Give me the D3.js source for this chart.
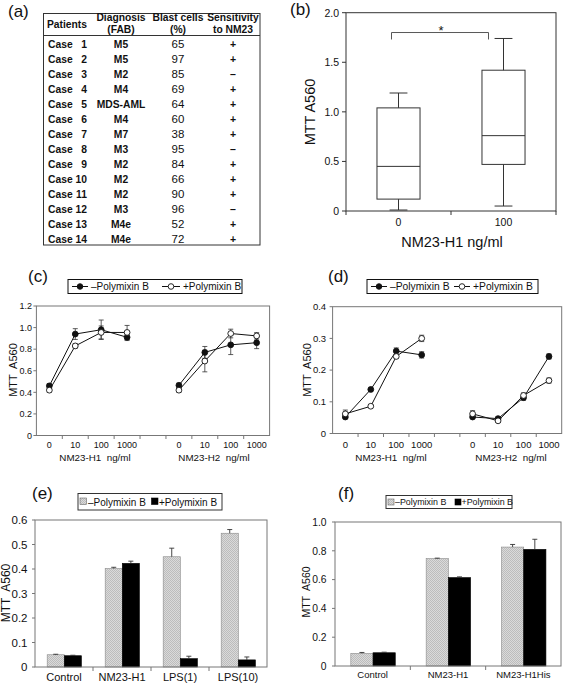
<!DOCTYPE html>
<html><head><meta charset="utf-8">
<script src="https://cdn.jsdelivr.net/npm/d3@7"></script>
<style>
body{margin:0;background:#fff}
svg{display:block}
text{font-family:"Liberation Sans",Arial,Helvetica,sans-serif;fill:#111;white-space:pre}
</style>
</head><body>
<svg id="chart"></svg>
<script>
// ---------------- DATA ----------------
// (a) table
const caseNumbers = [1,2,3,4,5,6,7,8,9,10,11,12,13,14];
const diagnosis = ["M5","M5","M2","M4","MDS-AML","M4","M7","M3","M2","M2","M2","M3","M4e","M4e"];
const blastCells = [65,97,85,69,64,60,38,95,84,66,90,96,52,72];
const sensitivity = ["+","+","–","+","+","+","+","–","+","+","+","–","+","+"];
const headerPatients = ["Patients"];
const headerDiagnosis = ["Diagnosis","(FAB)"];
const headerBlast = ["Blast cells","(%)"];
const headerSens = ["Sensitivity","to NM23"];

// (b) box plot
const boxGroups = ["0","100"];
const boxMin = [0.01, 0.05];
const boxQ1 = [0.12, 0.47];
const boxMedian = [0.45, 0.76];
const boxQ3 = [1.04, 1.42];
const boxMax = [1.19, 1.74];
const boxTicks = [0, 0.5, 1.0, 1.5, 2.0];

// (c) / (d) dose response
const doseLabels = ["0","10","100","1000"];
const seriesNames = ["–Polymixin B","+Polymixin B"];
const cMinusH1 = [0.46, 0.94, 0.98, 0.91];
const cMinusH1Err = [0.02, 0.05, 0.09, 0.03];
const cPlusH1 = [0.42, 0.83, 0.955, 0.955];
const cPlusH1Err = [0.02, 0.02, 0.06, 0.065];
const cMinusH2 = [0.465, 0.77, 0.84, 0.86];
const cMinusH2Err = [0.02, 0.055, 0.09, 0.055];
const cPlusH2 = [0.42, 0.69, 0.945, 0.923];
const cPlusH2Err = [0.02, 0.10, 0.04, 0.03];
const cTicks = [0, 0.2, 0.4, 0.6, 0.8, 1.0, 1.2];

const dMinusH1 = [0.052, 0.139, 0.26, 0.248];
const dMinusH1Err = [0.005, 0.004, 0.01, 0.01];
const dPlusH1 = [0.062, 0.086, 0.243, 0.30];
const dPlusH1Err = [0.012, 0.004, 0.005, 0.01];
const dMinusH2 = [0.052, 0.047, 0.113, 0.243];
const dMinusH2Err = [0.005, 0.005, 0.008, 0.008];
const dPlusH2 = [0.062, 0.040, 0.120, 0.167];
const dPlusH2Err = [0.01, 0.004, 0.008, 0.008];
const dTicks = [0, 0.1, 0.2, 0.3, 0.4];

// (e) bars
const eCategories = ["Control","NM23-H1","LPS(1)","LPS(10)"];
const eMinus = [0.05, 0.402, 0.45, 0.546];
const eMinusErr = [0.002, 0.005, 0.035, 0.015];
const ePlus = [0.046, 0.423, 0.034, 0.029];
const ePlusErr = [0.002, 0.009, 0.01, 0.012];
const eTicks = [0, 0.1, 0.2, 0.3, 0.4, 0.5, 0.6];

// (f) bars
const fCategories = ["Control","NM23-H1","NM23-H1His"];
const fMinus = [0.088, 0.746, 0.826];
const fMinusErr = [0.006, 0.003, 0.018];
const fPlus = [0.092, 0.614, 0.81];
const fPlusErr = [0.004, 0.005, 0.07];
const fTicks = [0, 0.2, 0.4, 0.6, 0.8, 1.0];

// ---------------- DRAW ----------------
const W = 566, H = 683;
const svg = d3.select("#chart").attr("width", W).attr("height", H);
svg.append("rect").attr("width", W).attr("height", H).attr("fill", "#fff");

const defs = svg.append("defs");
const pat = defs.append("pattern").attr("id","grayTex").attr("patternUnits","userSpaceOnUse").attr("width",2).attr("height",2);
pat.append("rect").attr("width",2).attr("height",2).attr("fill","#dadada");
pat.append("rect").attr("width",1).attr("height",1).attr("fill","#bcbcbc");
pat.append("rect").attr("x",1).attr("y",1).attr("width",1).attr("height",1).attr("fill","#bcbcbc");

const fmt1 = d => d === 0 ? "0" : d3.format(".1f")(d);

function panelLabel(t, x, y) {
  svg.append("text").attr("x", x).attr("y", y).attr("font-size", 17).text(t);
}
panelLabel("(a)", 8, 17);
panelLabel("(b)", 290, 15);
panelLabel("(c)", 28, 282);
panelLabel("(d)", 328, 282);
panelLabel("(e)", 32, 499);
panelLabel("(f)", 338, 499);

// ---- (a) table ----
(function(){
  const g = svg.append("g");
  g.append("rect").attr("x",43.5).attr("y",13.5).attr("width",216.5).attr("height",231.5)
    .attr("fill","none").attr("stroke","#333").attr("stroke-width",1);
  g.append("line").attr("x1",43.5).attr("x2",260).attr("y1",35.5).attr("y2",35.5).attr("stroke","#333");
  const hdr = [[headerPatients,67],[headerDiagnosis,121],[headerBlast,178],[headerSens,233]];
  hdr.forEach(([lines,cx]) => {
    const ys = lines.length === 1 ? [28] : [21, 32.5];
    lines.forEach((l,i) => g.append("text").attr("x",cx).attr("y",ys[i]).attr("text-anchor","middle")
      .attr("font-size",10.3).attr("font-weight","bold").text(l));
  });
  const rowY = d3.scaleBand().domain(caseNumbers).range([36, 246]);
  const by = d => rowY(d) + rowY.bandwidth()/2 + 4;
  g.selectAll(".cw").data(caseNumbers).join("text").attr("class","cw")
    .attr("x",48).attr("y",by).attr("font-size",10.3).attr("font-weight","bold").text("Case");
  g.selectAll(".cn").data(caseNumbers).join("text").attr("class","cn")
    .attr("x",87).attr("y",by).attr("text-anchor","end").attr("font-size",10.3).attr("font-weight","bold").text(d=>d);
  g.selectAll(".dg").data(caseNumbers).join("text").attr("class","dg")
    .attr("x",121).attr("y",by).attr("text-anchor","middle").attr("font-size",10.3).attr("font-weight","bold").text((d,i)=>diagnosis[i]);
  g.selectAll(".bc").data(caseNumbers).join("text").attr("class","bc")
    .attr("x",178).attr("y",d=>by(d)+0.5).attr("text-anchor","middle").attr("font-size",11.5).text((d,i)=>blastCells[i]);
  g.selectAll(".sn").data(caseNumbers).join("text").attr("class","sn")
    .attr("x",233).attr("y",by).attr("text-anchor","middle").attr("font-size",10.5).attr("font-weight","bold").text((d,i)=>sensitivity[i]);
})();

// ---- (b) box plot ----
(function(){
  const g = svg.append("g");
  const x0 = 346, x1 = 556, yb = 211, yt = 12.7;
  const x = d3.scaleBand().domain(boxGroups).range([x0, x1]);
  const y = d3.scaleLinear().domain([0, 2]).range([yb, yt]);
  g.append("rect").attr("x",x0).attr("y",yt).attr("width",x1-x0).attr("height",yb-yt)
    .attr("fill","none").attr("stroke","#333");
  g.selectAll(".yt").data(boxTicks).join("line").attr("class","yt")
    .attr("x1",x0-4).attr("x2",x0).attr("y1",d=>y(d)).attr("y2",d=>y(d)).attr("stroke","#333");
  g.selectAll(".yl").data(boxTicks).join("text").attr("class","yl")
    .attr("x",x0-7).attr("y",d=>y(d)+3.8).attr("text-anchor","end").attr("font-size",10.5).attr("fill","#333").text(fmt1);
  const bounds = [x0, ...boxGroups.slice(1).map(d=>x(d)), x1];
  g.selectAll(".xt").data(bounds).join("line").attr("class","xt")
    .attr("x1",d=>d).attr("x2",d=>d).attr("y1",yb).attr("y2",yb+4).attr("stroke","#333");
  g.selectAll(".xl").data(boxGroups).join("text").attr("class","xl")
    .attr("x",d=>x(d)+x.bandwidth()/2).attr("y",226).attr("text-anchor","middle").attr("font-size",10.5).attr("fill","#333").text(d=>d);
  const bw = x.bandwidth()*0.41, cw = x.bandwidth()*0.17;
  boxGroups.forEach((gname,i) => {
    const cx = x(gname) + x.bandwidth()/2;
    const L = (xa,ya,xb,yb2) => g.append("line").attr("x1",xa).attr("y1",ya).attr("x2",xb).attr("y2",yb2).attr("stroke","#333");
    L(cx, y(boxMax[i]), cx, y(boxQ3[i]));
    L(cx, y(boxQ1[i]), cx, y(boxMin[i]));
    L(cx-cw/2, y(boxMax[i]), cx+cw/2, y(boxMax[i]));
    L(cx-cw/2, y(boxMin[i]), cx+cw/2, y(boxMin[i]));
    g.append("rect").attr("x",cx-bw/2).attr("y",y(boxQ3[i])).attr("width",bw).attr("height",y(boxQ1[i])-y(boxQ3[i]))
      .attr("fill","none").attr("stroke","#333");
    L(cx-bw/2, y(boxMedian[i]), cx+bw/2, y(boxMedian[i]));
  });
  const c0 = x(boxGroups[0]) + x.bandwidth()/2, c1 = x(boxGroups[1]) + x.bandwidth()/2;
  const by1 = y(1.8), by2 = y(1.73);
  g.append("path").attr("d",`M${c0-7},${by2}V${by1}H${c1-15}V${by2}`).attr("fill","none").attr("stroke","#444").attr("stroke-width",0.9);
  g.append("text").attr("x",(c0+c1)/2-10).attr("y",by1+2.5).attr("text-anchor","middle").attr("font-size",13).text("*");
  g.append("text").attr("transform","translate(310,112) rotate(-90)").attr("dy","0.35em")
    .attr("text-anchor","middle").attr("font-size",14.5).text("MTT A560");
  g.append("text").attr("x",452).attr("y",247).attr("text-anchor","middle").attr("font-size",14.5).text("NM23-H1 ng/ml");
})();

// ---- line panels ----
function linePanel(o) {
  const g = svg.append("g");
  const x = d3.scaleBand().domain(d3.range(9)).range([o.x0, o.x1]);
  const y = d3.scaleLinear().domain([0, o.ymax]).range([o.yb, o.yt]);
  g.append("rect").attr("x",o.x0).attr("y",o.yt).attr("width",o.x1-o.x0).attr("height",o.yb-o.yt)
    .attr("fill","none").attr("stroke","#777");
  g.selectAll(".yt").data(o.ticks).join("line").attr("class","yt")
    .attr("x1",o.x0-3).attr("x2",o.x0).attr("y1",d=>y(d)).attr("y2",d=>y(d)).attr("stroke","#777");
  g.selectAll(".yl").data(o.ticks).join("text").attr("class","yl")
    .attr("x",o.x0-o.gap).attr("y",d=>y(d)+3.2).attr("text-anchor","end").attr("font-size",o.fs).attr("fill","#222").text(fmt1);
  g.selectAll(".xt").data(d3.range(1,9)).join("line").attr("class","xt")
    .attr("x1",d=>x(d)).attr("x2",d=>x(d)).attr("y1",o.yb).attr("y2",o.yb+3.5).attr("stroke","#777");
  const slots = [0,1,2,3,5,6,7,8];
  const cx = i => x(i) + x.bandwidth()/2;
  g.selectAll(".xl").data(slots).join("text").attr("class","xl")
    .attr("x",cx).attr("y",447.5).attr("text-anchor","middle").attr("font-size",o.fs).attr("fill","#222")
    .text(d=>doseLabels[d % 5]);
  o.titles.forEach((t,i) => g.append("text").attr("x",o.titleX[i]).attr("y",461).attr("text-anchor","middle")
    .attr("font-size",9.8).text(t));
  g.append("text").attr("transform",`translate(${o.yTitleX},370) rotate(-90)`).attr("dy","0.35em")
    .attr("text-anchor","middle").attr("font-size",11).text("MTT  A560");
  const line = d3.line().x(d=>d.x).y(d=>d.y);
  const groups = [];
  o.series.forEach(s => {
    [[s.h1, s.h1e, 0],[s.h2, s.h2e, 5]].forEach(([vals, errs, off]) => {
      groups.push({filled: s.filled, pts: vals.map((v,i)=>({x:cx(off+i), y:y(v), yl:y(v-errs[i]), yh:y(v+errs[i])}))});
    });
  });
  groups.forEach(gr => g.append("path").attr("d", line(gr.pts)).attr("fill","none").attr("stroke","#111").attr("stroke-width",1));
  groups.forEach(gr => gr.pts.forEach(p => {
    g.append("line").attr("x1",p.x).attr("x2",p.x).attr("y1",p.yl).attr("y2",p.yh).attr("stroke","#333").attr("stroke-width",0.8);
    [p.yl,p.yh].forEach(yy => g.append("line").attr("x1",p.x-2.5).attr("x2",p.x+2.5).attr("y1",yy).attr("y2",yy).attr("stroke","#333").attr("stroke-width",0.8));
  }));
  groups.forEach(gr => gr.pts.forEach(p => {
    g.append("circle").attr("cx",p.x).attr("cy",p.y).attr("r",2.9)
      .attr("fill", gr.filled ? "#111" : "#fff").attr("stroke","#111").attr("stroke-width",0.9);
  }));
  // legend
  const L = o.legend;
  g.append("rect").attr("x",L.x0).attr("y",279.5).attr("width",L.x1-L.x0).attr("height",14).attr("fill","#fff").attr("stroke","#111");
  L.items.forEach((it,i) => {
    g.append("line").attr("x1",it.l0).attr("x2",it.l1).attr("y1",286.5).attr("y2",286.5).attr("stroke","#111");
    g.append("circle").attr("cx",(it.l0+it.l1)/2).attr("cy",286.5).attr("r",2.8)
      .attr("fill", i===0 ? "#111" : "#fff").attr("stroke","#111").attr("stroke-width",0.9);
    g.append("text").attr("x",it.t).attr("y",290.3).attr("font-size",L.fs).text(seriesNames[i]);
  });
}

linePanel({
  x0:36.4, x1:269.6, yt:306, yb:435.5, ymax:1.2, ticks:cTicks, fs:9, gap:4.5,
  titles:["NM23-H1  ng/ml","NM23-H2  ng/ml"], titleX:[95,214], yTitleX:13.5,
  series:[
    {filled:true, h1:cMinusH1, h1e:cMinusH1Err, h2:cMinusH2, h2e:cMinusH2Err},
    {filled:false, h1:cPlusH1, h1e:cPlusH1Err, h2:cPlusH2, h2e:cPlusH2Err}
  ],
  legend:{x0:68, x1:242, fs:10, items:[{l0:72,l1:88,t:91},{l0:162,l1:180,t:183}]}
});
linePanel({
  x0:332.6, x1:561.7, yt:306.7, yb:433.5, ymax:0.4, ticks:dTicks, fs:9.5, gap:6.5,
  titles:["NM23-H1  ng/ml","NM23-H2  ng/ml"], titleX:[391,511], yTitleX:307,
  series:[
    {filled:true, h1:dMinusH1, h1e:dMinusH1Err, h2:dMinusH2, h2e:dMinusH2Err},
    {filled:false, h1:dPlusH1, h1e:dPlusH1Err, h2:dPlusH2, h2e:dPlusH2Err}
  ],
  legend:{x0:367, x1:538, fs:10.3, items:[{l0:371,l1:387,t:390},{l0:454,l1:470,t:473}]}
});

// ---- bar panels ----
function barPanel(o) {
  const g = svg.append("g");
  const x = d3.scaleBand().domain(o.cats).range([o.x0, o.x1]);
  const sub = d3.scaleBand().domain([0,1]).range([x.bandwidth()*0.21, x.bandwidth()*0.80]);
  const y = d3.scaleLinear().domain([0, o.ymax]).range([o.yb, o.yt]);
  g.selectAll(".yt").data(o.ticks).join("line").attr("class","yt")
    .attr("x1",o.x0-3).attr("x2",o.x0).attr("y1",d=>y(d)).attr("y2",d=>y(d)).attr("stroke","#777");
  g.selectAll(".yl").data(o.ticks).join("text").attr("class","yl")
    .attr("x",o.x0-o.gap).attr("y",d=>y(d)+o.yfs*0.36).attr("text-anchor","end").attr("font-size",o.yfs).attr("fill","#222").text(fmt1);
  g.selectAll(".xt").data(o.cats.slice(1)).join("line").attr("class","xt")
    .attr("x1",d=>x(d)).attr("x2",d=>x(d)).attr("y1",o.yb).attr("y2",o.yb+4).attr("stroke","#777");
  g.selectAll(".xl").data(o.cats).join("text").attr("class","xl")
    .attr("x",d=>x(d)+x.bandwidth()/2).attr("y",o.xly).attr("text-anchor","middle").attr("font-size",o.xfs).attr("fill","#222").text(d=>d);
  g.append("text").attr("transform",`translate(${o.yTitleX},${o.yTitleY}) rotate(-90)`).attr("dy","0.35em")
    .attr("text-anchor","middle").attr("font-size",o.yTitleFs).text("MTT  A560");
  [[o.minus,o.minusErr,0],[o.plus,o.plusErr,1]].forEach(([vals,errs,k]) => {
    g.selectAll(".bar"+k).data(o.cats).join("rect").attr("class","bar"+k)
      .attr("x",d=>x(d)+sub(k)).attr("width",sub.bandwidth())
      .attr("y",(d,i)=>y(vals[i])).attr("height",(d,i)=>o.yb-y(vals[i]))
      .attr("fill", k===0 ? "url(#grayTex)" : "#000").attr("stroke", k===0 ? "#8a8a8a" : "#000").attr("stroke-width",0.6);
  });
  [[o.minus,o.minusErr,0],[o.plus,o.plusErr,1]].forEach(([vals,errs,k]) => {
    o.cats.forEach((c,i) => {
      const cx = x(c)+sub(k)+sub.bandwidth()/2;
      g.append("line").attr("x1",cx).attr("x2",cx).attr("y1",y(vals[i])).attr("y2",y(vals[i]+errs[i])).attr("stroke","#333").attr("stroke-width",0.9);
      g.append("line").attr("x1",cx-2.5).attr("x2",cx+2.5).attr("y1",y(vals[i]+errs[i])).attr("y2",y(vals[i]+errs[i])).attr("stroke","#333").attr("stroke-width",0.9);
    });
  });
  g.append("rect").attr("x",o.x0).attr("y",o.yt).attr("width",o.x1-o.x0).attr("height",o.yb-o.yt)
    .attr("fill","none").attr("stroke","#777");
  const L = o.legend;
  g.append("rect").attr("x",L.x0).attr("y",L.y0).attr("width",L.x1-L.x0).attr("height",L.y1-L.y0).attr("fill","#fff").attr("stroke","#333");
  L.items.forEach((it,i) => {
    g.append("rect").attr("x",it.s).attr("y",L.sy).attr("width",L.ss).attr("height",L.ss)
      .attr("fill", i===0 ? "url(#grayTex)" : "#000").attr("stroke", i===0 ? "#666" : "#000").attr("stroke-width",0.6);
    g.append("text").attr("x",it.t).attr("y",L.ty).attr("font-size",L.fs).text(seriesNames[i]);
  });
}

barPanel({
  cats:eCategories, minus:eMinus, minusErr:eMinusErr, plus:ePlus, plusErr:ePlusErr,
  x0:35, x1:267, yt:520, yb:667, ymax:0.6, ticks:eTicks, yfs:11.5, gap:7.5, xfs:11, xly:681,
  yTitleX:5.5, yTitleY:593, yTitleFs:12,
  legend:{x0:78, x1:222, y0:493.5, y1:510, sy:498, ss:6.5, ty:505.5, fs:10, items:[{s:80,t:88},{s:151.5,t:159}]}
});
barPanel({
  cats:fCategories, minus:fMinus, minusErr:fMinusErr, plus:fPlus, plusErr:fPlusErr,
  x0:335, x1:561, yt:522, yb:666, ymax:1.0, ticks:fTicks, yfs:10.3, gap:8.5, xfs:9.5, xly:677.5,
  yTitleX:306.5, yTitleY:592, yTitleFs:10.5,
  legend:{x0:386, x1:512, y0:495.5, y1:508.5, sy:499, ss:6, ty:505.3, fs:8.9, items:[{s:388,t:395},{s:455,t:461.5}]}
});
</script>
</body></html>
